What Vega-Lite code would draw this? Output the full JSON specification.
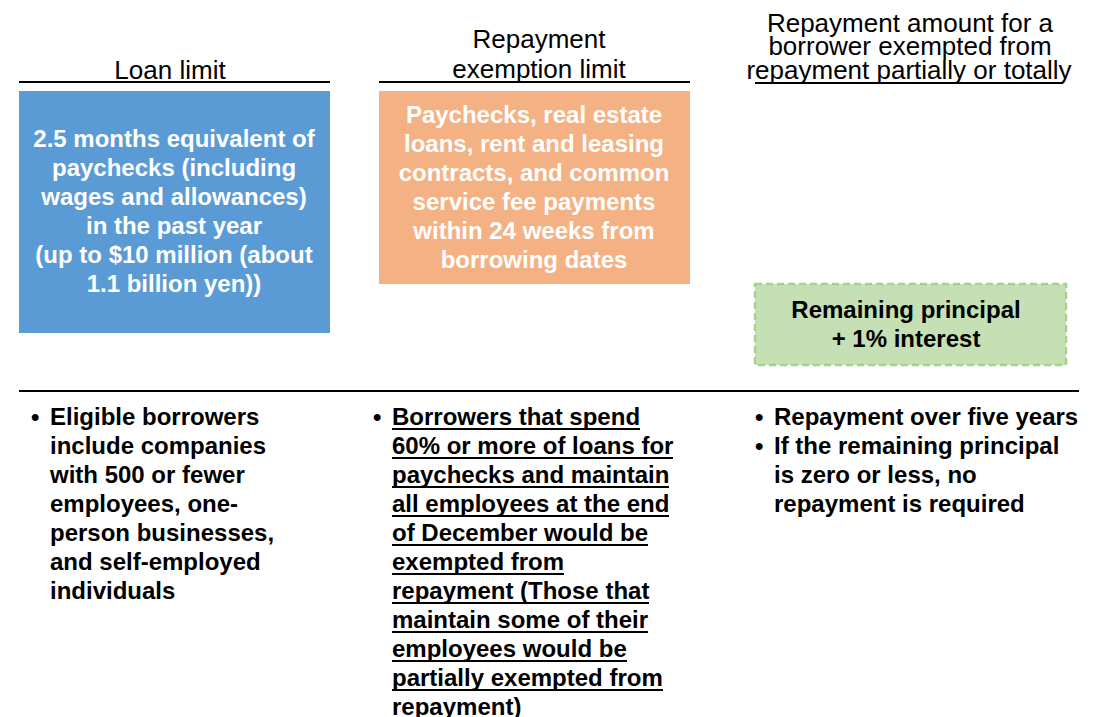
{
  "$schema": "https://vega.github.io/schema/vega-lite/v6.json",
  "autosize": {"type": "none"},
  "width": 1095,
  "height": 717,
  "padding": 0,
  "background": "white",
  "config": {"view": {"stroke": null}},
  "datasets": {
    "boxes": [
      {"name": "Loan limit", "x1": 19, "x2": 330, "y1": 91, "y2": 333, "kind": "blue"},
      {"name": "Repayment exemption limit", "x1": 379, "x2": 690, "y1": 91, "y2": 284, "kind": "orange"}
    ],
    "greenBox": [
      {"name": "Repayment amount", "x1": 755, "x2": 1066, "y1": 284, "y2": 365}
    ],
    "rules": [
      {"x1": 19, "x2": 330, "y": 82},
      {"x1": 379, "x2": 690, "y": 82},
      {"x1": 19, "x2": 1079, "y": 391}
    ],
    "underlines": [
      {"x1": 755, "x2": 1063, "y": 83},
      {"x1": 392, "x2": 640, "y": 429},
      {"x1": 392, "x2": 673, "y": 458},
      {"x1": 392, "x2": 669, "y": 487},
      {"x1": 392, "x2": 669, "y": 516},
      {"x1": 392, "x2": 648, "y": 545},
      {"x1": 392, "x2": 564, "y": 574},
      {"x1": 392, "x2": 649, "y": 603},
      {"x1": 392, "x2": 648, "y": 632},
      {"x1": 392, "x2": 627, "y": 661},
      {"x1": 392, "x2": 663, "y": 690}
    ],
    "headers": [
      {"text": "Loan limit", "x": 170, "y": 79},
      {"text": "Repayment", "x": 539, "y": 48},
      {"text": "exemption limit", "x": 539, "y": 78},
      {"text": "Repayment amount for a", "x": 910, "y": 32},
      {"text": "borrower exempted from", "x": 910, "y": 55},
      {"text": "repayment partially or totally", "x": 909, "y": 79}
    ],
    "boxText": [
      {"text": "2.5 months equivalent of", "x": 174, "y": 147},
      {"text": "paychecks (including", "x": 174, "y": 176},
      {"text": "wages and allowances)", "x": 174, "y": 205},
      {"text": "in the past year", "x": 174, "y": 234},
      {"text": "(up to $10 million (about", "x": 174, "y": 263},
      {"text": "1.1 billion yen))", "x": 174, "y": 292},
      {"text": "Paychecks, real estate", "x": 534, "y": 123},
      {"text": "loans, rent and leasing", "x": 534, "y": 152},
      {"text": "contracts, and common", "x": 534, "y": 181},
      {"text": "service fee payments", "x": 534, "y": 210},
      {"text": "within 24 weeks from", "x": 534, "y": 239},
      {"text": "borrowing dates", "x": 534, "y": 268}
    ],
    "greenText": [
      {"text": "Remaining principal", "x": 906, "y": 318},
      {"text": "+ 1% interest", "x": 906, "y": 347}
    ],
    "bullets": [
      {"text": "•", "x": 31, "y": 425},
      {"text": "Eligible borrowers", "x": 50, "y": 425},
      {"text": "include companies", "x": 50, "y": 454},
      {"text": "with 500 or fewer", "x": 50, "y": 483},
      {"text": "employees, one-", "x": 50, "y": 512},
      {"text": "person businesses,", "x": 50, "y": 541},
      {"text": "and self-employed", "x": 50, "y": 570},
      {"text": "individuals", "x": 50, "y": 599},
      {"text": "•", "x": 373, "y": 425},
      {"text": "Borrowers that spend", "x": 392, "y": 425},
      {"text": "60% or more of loans for", "x": 392, "y": 454},
      {"text": "paychecks and maintain", "x": 392, "y": 483},
      {"text": "all employees at the end", "x": 392, "y": 512},
      {"text": "of December would be", "x": 392, "y": 541},
      {"text": "exempted from", "x": 392, "y": 570},
      {"text": "repayment (Those that", "x": 392, "y": 599},
      {"text": "maintain some of their", "x": 392, "y": 628},
      {"text": "employees would be", "x": 392, "y": 657},
      {"text": "partially exempted from", "x": 392, "y": 686},
      {"text": "repayment)", "x": 392, "y": 715},
      {"text": "•", "x": 755, "y": 425},
      {"text": "Repayment over five years", "x": 774, "y": 425},
      {"text": "•", "x": 755, "y": 454},
      {"text": "If the remaining principal", "x": 774, "y": 454},
      {"text": "is zero or less, no", "x": 774, "y": 483},
      {"text": "repayment is required", "x": 774, "y": 512}
    ]
  },
  "layer": [
    {
      "data": {"name": "boxes"},
      "mark": {"type": "rect"},
      "encoding": {
        "x": {"field": "x1", "type": "quantitative", "scale": {"domain": [0, 1095], "nice": false, "zero": false}, "axis": null},
        "x2": {"field": "x2"},
        "y": {"field": "y1", "type": "quantitative", "scale": {"domain": [0, 717], "nice": false, "zero": false, "reverse": true}, "axis": null},
        "y2": {"field": "y2"},
        "color": {"field": "kind", "type": "nominal", "scale": {"domain": ["blue", "orange"], "range": ["#5B9BD5", "#F4B183"]}, "legend": null}
      }
    },
    {
      "data": {"name": "greenBox"},
      "mark": {"type": "rect", "fill": "#C5E0B4", "stroke": "#A9D18E", "strokeWidth": 2.5, "strokeDash": [7, 4]},
      "encoding": {
        "x": {"field": "x1", "type": "quantitative", "axis": null},
        "x2": {"field": "x2"},
        "y": {"field": "y1", "type": "quantitative", "axis": null},
        "y2": {"field": "y2"}
      }
    },
    {
      "data": {"name": "rules"},
      "mark": {"type": "rule", "color": "black", "strokeWidth": 2.2},
      "encoding": {
        "x": {"field": "x1", "type": "quantitative", "axis": null},
        "x2": {"field": "x2"},
        "y": {"field": "y", "type": "quantitative", "axis": null}
      }
    },
    {
      "data": {"name": "underlines"},
      "mark": {"type": "rule", "color": "black", "strokeWidth": 1.8},
      "encoding": {
        "x": {"field": "x1", "type": "quantitative", "axis": null},
        "x2": {"field": "x2"},
        "y": {"field": "y", "type": "quantitative", "axis": null}
      }
    },
    {
      "data": {"name": "headers"},
      "mark": {"type": "text", "font": "Liberation Sans", "fontSize": 26, "fontWeight": "normal", "color": "black", "align": "center", "baseline": "alphabetic"},
      "encoding": {
        "x": {"field": "x", "type": "quantitative", "axis": null},
        "y": {"field": "y", "type": "quantitative", "axis": null},
        "text": {"field": "text", "type": "nominal"}
      }
    },
    {
      "data": {"name": "boxText"},
      "mark": {"type": "text", "font": "Liberation Sans", "fontSize": 24, "fontWeight": "bold", "color": "white", "align": "center", "baseline": "alphabetic"},
      "encoding": {
        "x": {"field": "x", "type": "quantitative", "axis": null},
        "y": {"field": "y", "type": "quantitative", "axis": null},
        "text": {"field": "text", "type": "nominal"}
      }
    },
    {
      "data": {"name": "greenText"},
      "mark": {"type": "text", "font": "Liberation Sans", "fontSize": 24, "fontWeight": "bold", "color": "black", "align": "center", "baseline": "alphabetic"},
      "encoding": {
        "x": {"field": "x", "type": "quantitative", "axis": null},
        "y": {"field": "y", "type": "quantitative", "axis": null},
        "text": {"field": "text", "type": "nominal"}
      }
    },
    {
      "data": {"name": "bullets"},
      "mark": {"type": "text", "font": "Liberation Sans", "fontSize": 24, "fontWeight": "bold", "color": "black", "align": "left", "baseline": "alphabetic"},
      "encoding": {
        "x": {"field": "x", "type": "quantitative", "axis": null},
        "y": {"field": "y", "type": "quantitative", "axis": null},
        "text": {"field": "text", "type": "nominal"}
      }
    }
  ]
}
